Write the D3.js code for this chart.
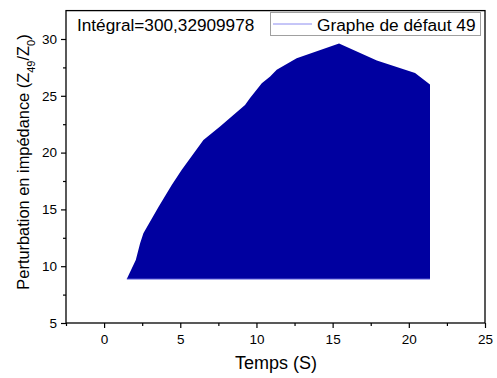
<!DOCTYPE html>
<html>
<head>
<meta charset="utf-8">
<script src="https://cdn.jsdelivr.net/npm/d3@7"></script>
<style>
  html, body { margin: 0; padding: 0; background: #fff; }
  svg { display: block; font-family: "Liberation Sans", Arial, sans-serif; }
</style>
</head>
<body>
<svg id="chart" width="497" height="378"></svg>
<script>
// Impedance perturbation over time (defect graph 49)
const timeS = [1.49, 2.08, 2.36, 2.58, 3.56, 4.44, 5.10, 6.52, 7.61, 9.25, 9.58,
               10.35, 10.90, 11.33, 12.64, 15.42, 17.90, 20.41, 21.39];
const impedance = [8.87, 10.55, 12.0, 12.9, 15.2, 17.15, 18.5, 21.1, 22.3, 24.2, 24.8,
                   26.1, 26.7, 27.3, 28.3, 29.6, 28.1, 27.0, 26.0];
const xTicks = [0, 5, 10, 15, 20, 25];
const yTicks = [5, 10, 15, 20, 25, 30];
const integralLabel = "Intégral=300,32909978";
const seriesName = "Graphe de défaut 49";

const svg = d3.select("#chart");
const plotLeft = 66, plotRight = 485, plotTop = 10.6, plotBottom = 323;

const x = d3.scaleLinear().domain([-2.5, 25]).range([plotLeft, plotRight]);
const y = d3.scaleLinear().domain([5, 32.5]).range([plotBottom, plotTop]);

const data = timeS.map((t, i) => ({ t, v: impedance[i] }));
const baseline = d3.min(impedance);

// filled area down to the lowest value
const area = d3.area()
  .x(d => x(d.t))
  .y0(y(baseline))
  .y1(d => y(d.v));

svg.append("path")
  .datum(data)
  .attr("d", area)
  .attr("fill", "#0000a0")
  .attr("stroke", "none");

svg.append("line")
  .attr("x1", x(timeS[0])).attr("x2", x(timeS[timeS.length - 1]))
  .attr("y1", y(baseline)).attr("y2", y(baseline))
  .attr("stroke", "#5a5ad8").attr("stroke-width", 1);

// frame
svg.append("rect")
  .attr("x", plotLeft).attr("y", plotTop)
  .attr("width", plotRight - plotLeft).attr("height", plotBottom - plotTop)
  .attr("fill", "none").attr("stroke", "#000").attr("stroke-width", 1.3);

// x axis
const xAxis = d3.axisBottom(x).tickValues(xTicks).tickSize(5).tickPadding(6)
  .tickFormat(d3.format("d"));
const gx = svg.append("g").attr("transform", `translate(0,${plotBottom})`).call(xAxis);
gx.select(".domain").remove();
gx.selectAll(".tick line").attr("stroke-width", 1.2);
gx.selectAll("text").attr("font-size", 13.5).attr("fill", "#000")
  .attr("font-family", "Liberation Sans, Arial, sans-serif");

const xMinor = d3.axisBottom(x).tickValues(d3.range(-2.5, 25, 2.5).filter(v => v % 5 !== 0))
  .tickSize(3).tickFormat("");
const gxm = svg.append("g").attr("transform", `translate(0,${plotBottom})`).call(xMinor);
gxm.select(".domain").remove();
gxm.selectAll(".tick line").attr("stroke-width", 1.2);

// y axis
const yAxis = d3.axisLeft(y).tickValues(yTicks).tickSize(5).tickPadding(4)
  .tickFormat(d3.format("d"));
const gy = svg.append("g").attr("transform", `translate(${plotLeft},0)`).call(yAxis);
gy.select(".domain").remove();
gy.selectAll(".tick line").attr("stroke-width", 1.2);
gy.selectAll("text").attr("font-size", 13.5).attr("fill", "#000")
  .attr("font-family", "Liberation Sans, Arial, sans-serif");

const yMinor = d3.axisLeft(y).tickValues(d3.range(7.5, 32.5, 5))
  .tickSize(3).tickFormat("");
const gym = svg.append("g").attr("transform", `translate(${plotLeft},0)`).call(yMinor);
gym.select(".domain").remove();
gym.selectAll(".tick line").attr("stroke-width", 1.2);

// axis titles
svg.append("text")
  .attr("x", 276).attr("y", 369)
  .attr("text-anchor", "middle").attr("font-size", 18)
  .text("Temps (S)");

const yt = svg.append("text")
  .attr("transform", "translate(29,162) rotate(-90)")
  .attr("text-anchor", "middle").attr("font-size", 16.4);
yt.append("tspan").text("Perturbation en impédance (Z");
yt.append("tspan").attr("baseline-shift", "sub").attr("font-size", 11).text("49");
yt.append("tspan").text("/Z");
yt.append("tspan").attr("baseline-shift", "sub").attr("font-size", 11).text("0");
yt.append("tspan").text(")");

// integral annotation
svg.append("text")
  .attr("x", 77).attr("y", 31)
  .attr("font-size", 17.2)
  .text(integralLabel);

// legend
const lg = svg.append("g");
lg.append("rect")
  .attr("x", 270.5).attr("y", 12.5).attr("width", 210).attr("height", 23)
  .attr("fill", "#fff").attr("stroke", "#a0a0a0").attr("stroke-width", 1);
lg.append("line")
  .attr("x1", 273).attr("x2", 312).attr("y1", 24).attr("y2", 24)
  .attr("stroke", "#8c8cf0").attr("stroke-width", 1);
lg.append("text")
  .attr("x", 317).attr("y", 30.5).attr("font-size", 17.3)
  .text(seriesName);
</script>
</body>
</html>
